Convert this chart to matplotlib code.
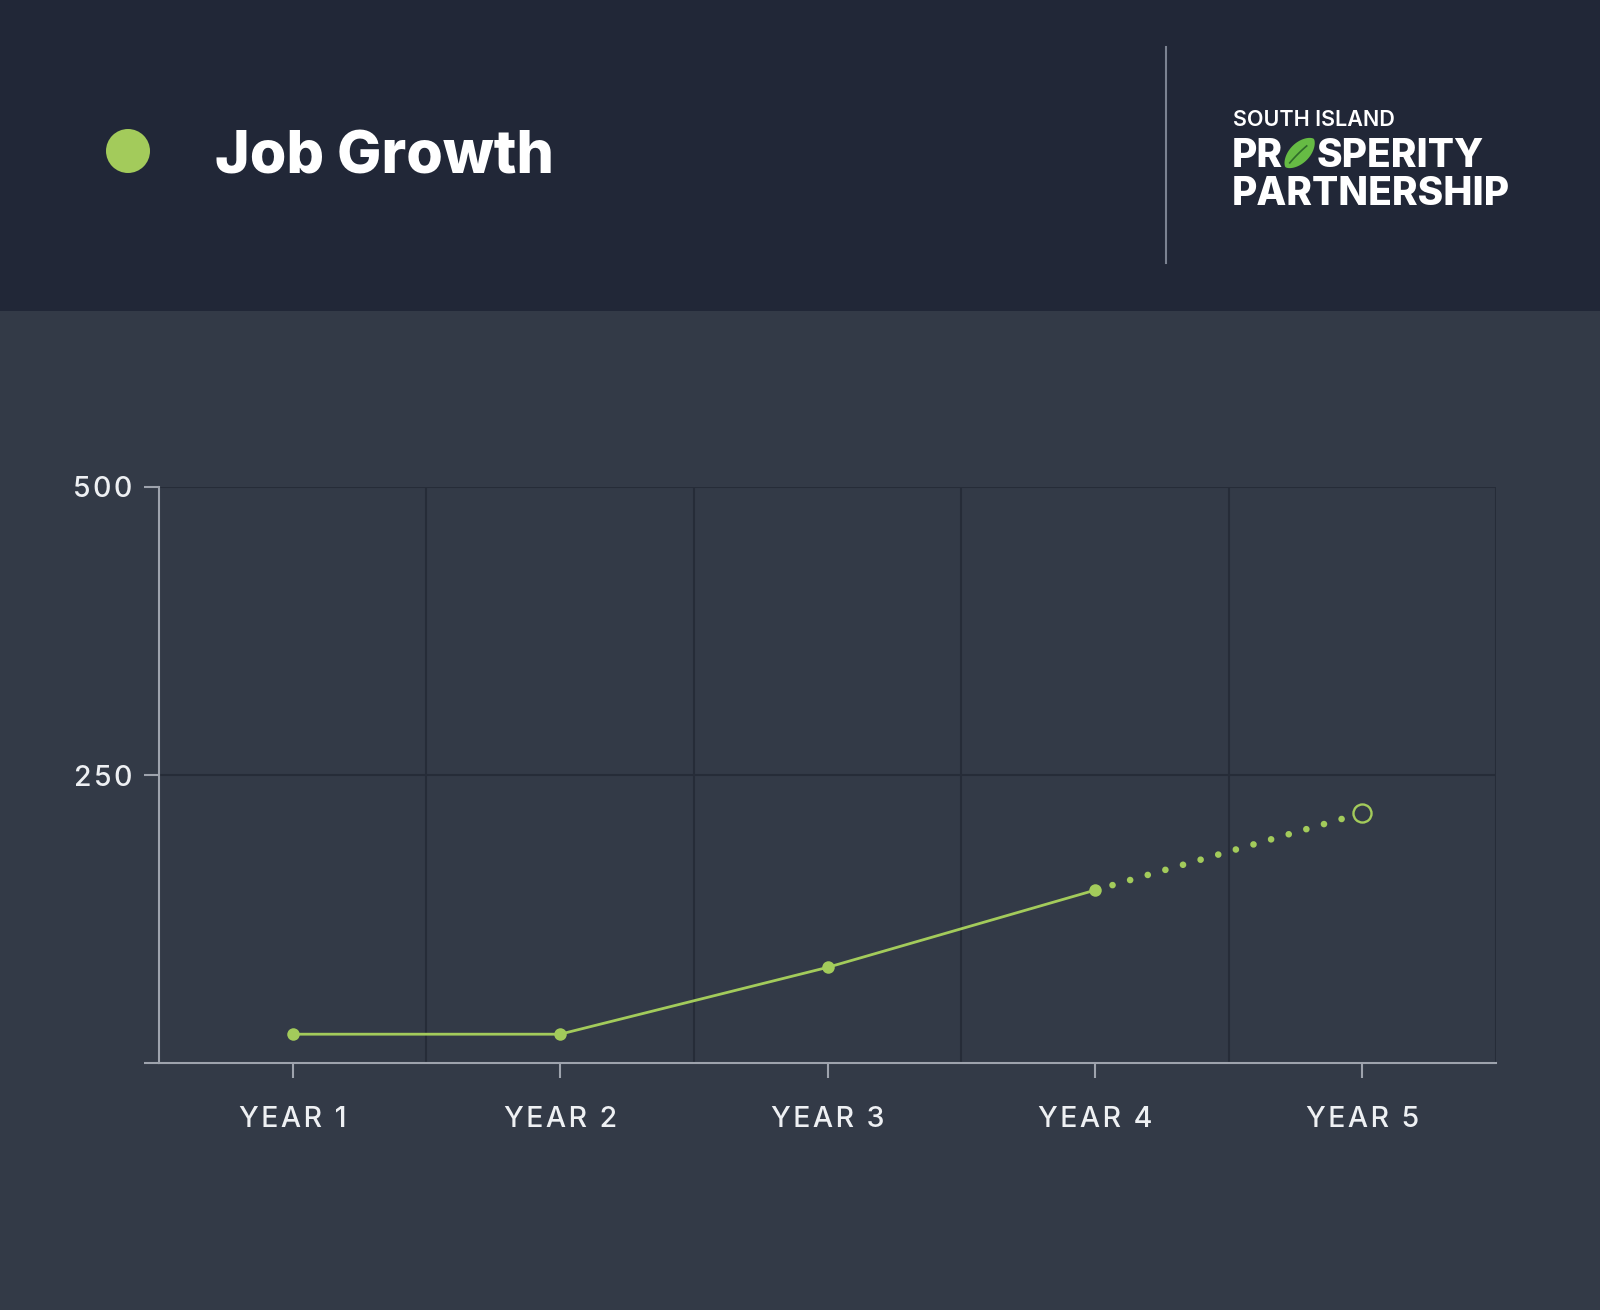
import numpy as np
import matplotlib
matplotlib.use('Agg')
import matplotlib.pyplot as plt
from matplotlib.patches import Rectangle, Ellipse, Polygon

# chart data
years = ['YEAR 1', 'YEAR 2', 'YEAR 3', 'YEAR 4', 'YEAR 5']
actual_jobs = [25, 25, 83, 150]
projected_jobs = 217
y_ticks = [0, 250, 500]
y_labels = ['', '250', '500']

W, H = 1600, 1310
header_bg = '#212737'
body_bg = '#333a47'
green = '#a3cb5b'
axis_col = '#9ea3ad'
grid_col = '#262c38'
text_col = '#eef0f3'

plt.rcParams['font.family'] = ['Inter', 'DejaVu Sans']

fig = plt.figure(figsize=(W / 100, H / 100), dpi=100)
fig.patch.set_facecolor(body_bg)


def fx(px):
    return px / W


def fy(py):
    return 1 - py / H


def spaced(s):
    # poor man's letter spacing
    return '\u200a'.join(s)


# header band
fig.patches.append(Rectangle((0, fy(311)), 1, 311 / H, transform=fig.transFigure,
                             facecolor=header_bg, edgecolor='none', zorder=0))
fig.patches.append(Ellipse((fx(128), fy(151)), 44 / W, 44 / H, transform=fig.transFigure,
                           facecolor=green, edgecolor='none', zorder=2))
fig.text(fx(215), fy(173), 'Job Growth', fontsize=42.5, fontweight='heavy', color='white',
         va='baseline', ha='left')

# divider
fig.add_artist(plt.Line2D([fx(1166), fx(1166)], [fy(47), fy(263)], transform=fig.transFigure,
                          color='#7b8291', lw=1.5))

# logo
fig.text(fx(1233), fy(126), 'SOUTH ISLAND', fontsize=15.5, fontweight='semibold', color='white',
         va='baseline', ha='left')
renderer = fig.canvas.get_renderer()
t1 = fig.text(fx(1232), fy(167), 'PR', fontsize=28, fontweight='heavy', color='white',
              va='baseline', ha='left')
bb = t1.get_window_extent(renderer)
leaf_x0 = bb.x1 + 1
leaf_w = 31
# leaf shape (lens) standing in for the "O"
cx, cy = leaf_x0 + leaf_w / 2, H - 153
half = np.linspace(0, 2 * np.pi, 80)
lx = 20 * np.cos(half)
ly = 10 * np.sin(half) * np.abs(np.sin(half)) ** 0.3
ang = np.deg2rad(45)
px_ = cx + lx * np.cos(ang) - ly * np.sin(ang)
py_ = cy + lx * np.sin(ang) + ly * np.cos(ang)
fig.patches.append(Polygon(np.column_stack([px_ / W, py_ / H]), closed=True,
                           transform=fig.transFigure, facecolor='#66bb44', edgecolor='none', zorder=3))
rib = np.linspace(-14, 10, 20)
bend = -0.02 * (rib - 10) * (rib + 14) / 6
rx = cx + rib * np.cos(ang) - bend * np.sin(ang)
ry = cy + rib * np.sin(ang) + bend * np.cos(ang)
fig.add_artist(plt.Line2D(rx / W, ry / H, transform=fig.transFigure, color='#2f6b2a',
                          lw=1.2, zorder=4))
fig.text((leaf_x0 + leaf_w + 1) / W, fy(167), 'SPERITY', fontsize=28, fontweight='heavy',
         color='white', va='baseline', ha='left')
fig.text(fx(1232), fy(205), 'PARTNERSHIP', fontsize=28, fontweight='heavy', color='white',
         va='baseline', ha='left')

# chart
ax = fig.add_axes([fx(159), fy(1063), fx(1496) - fx(159), (1063 - 487) / H])
ax.set_facecolor('none')
x = np.arange(1, len(years) + 1)

ax.plot(x[:len(actual_jobs)], actual_jobs, color=green, lw=2, marker='o', ms=9,
        mec='none', zorder=4)
ax.plot([x[len(actual_jobs) - 1], x[-1]], [actual_jobs[-1], projected_jobs], color=green,
        lw=4.8, linestyle=(0, (0.001, 2.75)), dash_capstyle='round', zorder=3)
ax.plot([x[-1]], [projected_jobs], marker='o', ms=13, mfc=body_bg, mec=green, mew=1.7,
        ls='none', zorder=5)

ax.set_xlim(0.5, len(years) + 0.5)
ax.set_ylim(0, 500)
ax.set_xticks(x)
ax.set_xticklabels([spaced(y) for y in years])
ax.set_xticks(np.arange(0.5, len(years) + 1, 1), minor=True)
ax.set_yticks(y_ticks)
ax.set_yticklabels([spaced(y) for y in y_labels])

ax.grid(which='minor', axis='x', color=grid_col, lw=1.5)
ax.grid(which='major', axis='y', color=grid_col, lw=1.5)
ax.tick_params(axis='x', which='minor', length=0)
ax.tick_params(axis='x', which='major', length=11, width=1.5, color=axis_col, pad=20,
               labelsize=20.5, labelcolor=text_col)
ax.tick_params(axis='y', length=11, width=1.5, color=axis_col, pad=8,
               labelsize=20.5, labelcolor=text_col)
for lbl in ax.get_xticklabels() + ax.get_yticklabels():
    lbl.set_fontweight('medium')
for s in ['top', 'right']:
    ax.spines[s].set_visible(False)
for s in ['left', 'bottom']:
    ax.spines[s].set_color(axis_col)
    ax.spines[s].set_linewidth(1.5)
ax.set_axisbelow(True)

fig.savefig('out.png', dpi=100, facecolor=fig.get_facecolor())
